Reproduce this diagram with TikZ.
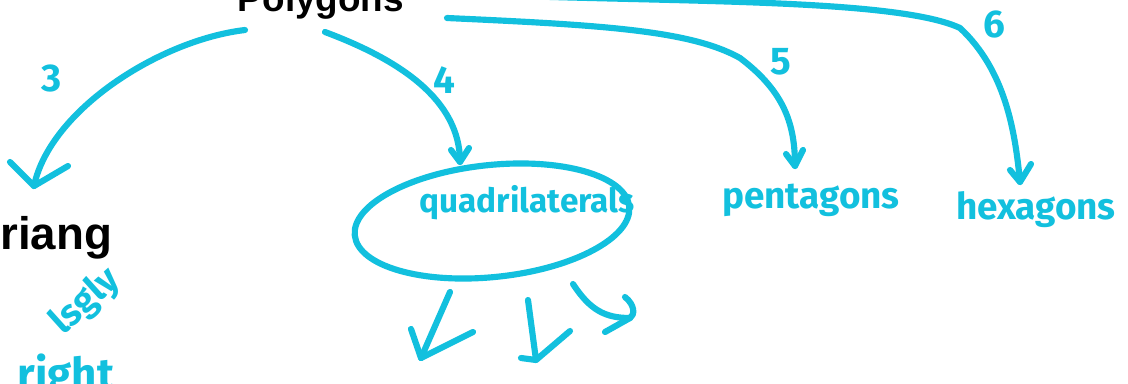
\documentclass[tikz,border=0pt]{standalone}
\usepackage{fontspec}
\setmainfont{Liberation Sans}
\newfontfamily\hand{Fira Sans}
\definecolor{pencol}{RGB}{18,192,222}
\tikzset{
  inkline/.style={draw=pencol, line width=3.5pt, line cap=round, line join=round},
  hw/.style={text=pencol, inner sep=0pt, font=\hand\bfseries\fontsize{21}{21}\selectfont},
  numlab/.style={text=pencol, inner sep=0pt, font=\hand\bfseries\fontsize{22}{22}\selectfont},
  boldlab/.style={text=black, inner sep=0pt}
}
\begin{document}
\begin{tikzpicture}[x=0.02cm,y=-0.02cm]
\useasboundingbox (0,0) rectangle (1128,383);
\fill[white] (0,0) rectangle (1128,383);
\clip (0,0) rectangle (1128,383);

% printed labels
\node[boldlab, anchor=base, font=\bfseries\fontsize{21}{21}\selectfont] (polygons) at (321,11) {Polygons};
\node[boldlab, anchor=base west, font=\bfseries\fontsize{26}{26}\selectfont] (triang) at (0,249) {riang};

% handwritten labels
\node[hw, font=\hand\bfseries\fontsize{19}{19}\selectfont] (quad) at (527,203) {quadrilaterals};
\node[hw] (penta) at (811,200) {pentagons};
\node[hw] (hexa) at (1036,210) {hexagons};
\node[numlab] (n3) at (52,78) {3};
\node[numlab] (n4) at (444,80) {4};
\node[numlab] (n5) at (781,62) {5};
\node[numlab] (n6) at (994,24) {6};
\node[hw, rotate=42, font=\hand\bfseries\fontsize{21}{21}\selectfont] (isgly) at (86,302) {lsgly};
\node[hw, anchor=base, font=\hand\bfseries\fontsize{25}{25}\selectfont] (right) at (66,389) {right};

% connector end points
\coordinate (s3) at (245,30);
\coordinate (t3) at (34,186);
\coordinate (s4) at (325,32);
\coordinate (t4) at (460,162);
\coordinate (s5) at (447,18);
\coordinate (m5) at (740,58);
\coordinate (t5) at (795,166);
\coordinate (s6) at (520,-4);
\coordinate (m6) at (960,28);
\coordinate (t6) at (1020,182);

% arrow 3
\draw[inkline] (s3) .. controls (160,40) and (50,110) .. (t3);
\draw[inkline] (10,162) -- (t3) -- (68,166);
% arrow 4
\draw[inkline] (s4) .. controls (400,60) and (460,100) .. (t4);
\draw[inkline] (451,150) -- (t4) -- (469,148);
% arrow 5
\draw[inkline] (s5) .. controls (600,25) and (690,30) .. (m5) .. controls (785,92) and (795,125) .. (t5);
\draw[inkline] (786,154) -- (t5) -- (803,150);
% arrow 6
\draw[inkline] (s6) .. controls (700,2) and (900,0) .. (m6) .. controls (1005,70) and (1015,130) .. (t6);
\draw[inkline] (1010,170) -- (t6) -- (1031,164);

% ellipse round quadrilaterals
\draw[inkline, rotate around={6:(492,221)}] (492,221) ellipse [x radius=2.76cm, y radius=1.12cm];

% three arrows below quadrilaterals
\coordinate (qa1) at (450,292);
\coordinate (qa2) at (421,358);
\draw[inkline] (qa1) -- (qa2);
\draw[inkline] (411,329) -- (qa2) -- (473,332);
\coordinate (qb1) at (528,300);
\coordinate (qb2) at (536,360);
\draw[inkline] (qb1) -- (qb2) -- (570,331);
\draw[inkline] (521,358) -- (qb2);
\coordinate (qc1) at (573,284);
\coordinate (qc2) at (630,318);
\draw[inkline] (qc1) .. controls (590,310) and (605,318) .. (qc2);
\draw[inkline] (625,297) .. controls (635,305) and (635,315) .. (qc2) -- (605,332);
\end{tikzpicture}
\end{document}
